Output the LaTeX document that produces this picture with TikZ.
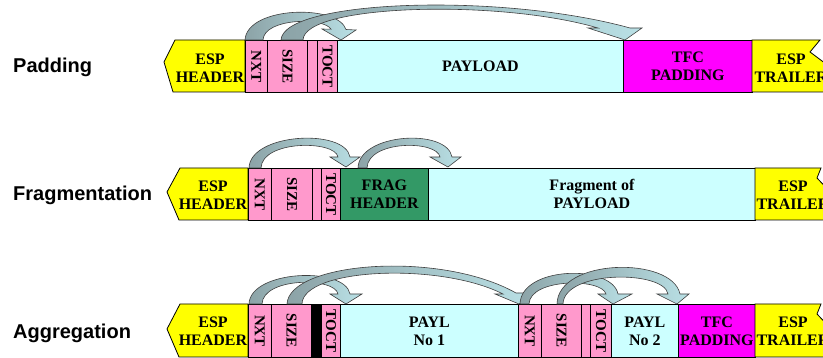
\documentclass[tikz,border=0pt]{standalone}
\usepackage{fontspec}
\setmainfont{Liberation Serif}
\setsansfont{Liberation Sans}
\definecolor{espyellow}{HTML}{FFFF00}
\definecolor{ctlpink}{HTML}{FF99CC}
\definecolor{paycyan}{HTML}{CCFFFF}
\definecolor{tfcmag}{HTML}{FF00FF}
\definecolor{fraggreen}{HTML}{339966}
\definecolor{arrdark}{HTML}{8CA3A7}
\definecolor{arrlight}{HTML}{B9E0E5}
\newcommand\fieldfont{\fontsize{16}{18}\selectfont\bfseries}
\newcommand\rotfont{\fontsize{15}{17}\selectfont\bfseries}
% a rectangular field of a packet: name, left x, right x, top y, fill, text
\newcommand\fieldbox[6]{%
  \node[field, fill=#5, minimum width={(#3-#2)*1pt}] (#1) at (#2,#4) {#6};}
\begin{document}
\begin{tikzpicture}[x=1pt, y=-1pt,
  field/.style={draw=black, line width=0.8pt, inner sep=0pt, anchor=north west,
    minimum height=52pt, font=\fieldfont, align=center},
  endcap/.style={draw=black, line width=0.8pt, line join=miter},
  fieldtext/.style={font=\fieldfont, align=center, inner sep=0pt},
  vtext/.style={font=\rotfont, rotate=-90, inner sep=0pt},
  rowlabel/.style={font=\sffamily\bfseries\fontsize{20}{24}\selectfont, anchor=west, inner sep=0pt},
  flowarrow/.style={draw=black!75, line width=0.6pt, left color=arrdark,
    right color=arrlight, line join=miter}]
\useasboundingbox (0,0) rectangle (823,358);

% ---------------- Padding ----------------
\node[rowlabel] (lblpad) at (13,67) {Padding};
\draw[endcap, fill=espyellow] (245,40) -- (175,40) -- (164,62) -- (173,92) -- (245,92) -- cycle;
\node[fieldtext] (hdrA) at (210,68) {ESP\\HEADER};
\fieldbox{nxtA}{245}{267}{40}{ctlpink}{}
\fieldbox{sizeA}{267}{307}{40}{ctlpink}{}
\fieldbox{gapA}{307}{317}{40}{ctlpink}{}
\fieldbox{toctA}{317}{337}{40}{ctlpink}{}
\fieldbox{payA}{337}{623}{40}{paycyan}{PAYLOAD}
\fieldbox{tfcA}{623}{752}{40}{tfcmag}{TFC\\PADDING}
\draw[endcap, fill=espyellow] (752,40) -- (820,40) -- (810,52) -- (834,70) -- (834,92) -- (752,92) -- cycle;
\node[fieldtext] (trlA) at (791,68) {ESP\\TRAILER};
\node[vtext] (nxtAt) at (nxtA.center) {NXT};
\node[vtext] (sizeAt) at (sizeA.center) {SIZE};
\node[vtext] (toctAt) at (toctA.center) {TOCT};

\path[flowarrow] (245,40) .. controls (247,6) and (338,4) .. (346,29.5) -- (356,30)
  -- (341,40) -- (322,29) -- (331,29.2) .. controls (324,17) and (264,18) .. (263,40) -- cycle;
\path[flowarrow] (281,40) .. controls (283,0) and (500,-8) .. (630,28) -- (642,28)
  -- (625,40) -- (588,28) -- (598,28) .. controls (500,-1) and (304,4) .. (303,40) -- cycle;

% ---------------- Fragmentation ----------------
\node[rowlabel] (lblfrag) at (13,195) {Fragmentation};
\draw[endcap, fill=espyellow] (248,168) -- (180,168) -- (167,192) -- (179,220) -- (248,220) -- cycle;
\node[fieldtext] (hdrB) at (213,195) {ESP\\HEADER};
\fieldbox{nxtB}{248}{271}{168}{ctlpink}{}
\fieldbox{sizeB}{271}{312}{168}{ctlpink}{}
\fieldbox{gapB}{312}{321}{168}{ctlpink}{}
\fieldbox{toctB}{321}{340}{168}{ctlpink}{}
\fieldbox{fragB}{340}{428}{168}{fraggreen}{FRAG\\HEADER}
\fieldbox{payB}{428}{755}{168}{paycyan}{Fragment of\\PAYLOAD}
\draw[endcap, fill=espyellow] (755,168) -- (821,168) -- (817,178) -- (834,196) -- (834,220) -- (755,220) -- cycle;
\node[fieldtext] (trlB) at (793,195) {ESP\\TRAILER};
\node[vtext] (nxtBt) at (nxtB.center) {NXT};
\node[vtext] (sizeBt) at (sizeB.center) {SIZE};
\node[vtext] (toctBt) at (toctB.center) {TOCT};

\path[flowarrow] (249,168) .. controls (250,133) and (345,128) .. (350,157) -- (360,157)
  -- (346,167) -- (330,157) -- (338,157) .. controls (335,140) and (262,140) .. (261,168) -- cycle;
\path[flowarrow] (358,168) .. controls (359,133) and (447,128) .. (452,157) -- (461,157)
  -- (448,167) -- (430,157) -- (440,157) .. controls (437,140) and (368,140) .. (367,168) -- cycle;

% ---------------- Aggregation ----------------
\node[rowlabel] (lblagg) at (13,333) {Aggregation};
\draw[endcap, fill=espyellow] (248,304) -- (180,304) -- (167,329) -- (179,357) -- (248,357) -- cycle;
\node[fieldtext] (hdrC) at (213,331) {ESP\\HEADER};
\tikzset{field/.append style={minimum height=53pt}}
\fieldbox{nxtC}{248}{271}{304}{ctlpink}{}
\fieldbox{sizeC}{271}{311}{304}{ctlpink}{}
\fieldbox{gapC}{311}{321}{304}{black}{}
\fieldbox{toctC}{321}{340}{304}{ctlpink}{}
\fieldbox{paylC}{340}{518}{304}{paycyan}{PAYL\\No 1}
\fieldbox{nxtD}{518}{541}{304}{ctlpink}{}
\fieldbox{sizeD}{541}{581}{304}{ctlpink}{}
\fieldbox{gapD}{581}{590}{304}{ctlpink}{}
\fieldbox{toctD}{590}{611}{304}{ctlpink}{}
\fieldbox{paylD}{611}{678}{304}{paycyan}{PAYL\\No 2}
\fieldbox{tfcC}{678}{755}{304}{tfcmag}{TFC\\PADDING}
\draw[endcap, fill=espyellow] (755,304) -- (821,304) -- (817,314) -- (834,332) -- (834,357) -- (755,357) -- cycle;
\node[fieldtext] (trlC) at (793,331) {ESP\\TRAILER};
\node[vtext] (nxtCt) at (nxtC.center) {NXT};
\node[vtext] (sizeCt) at (sizeC.center) {SIZE};
\node[vtext] (toctCt) at (toctC.center) {TOCT};
\node[vtext] (nxtDt) at (nxtD.center) {NXT};
\node[vtext] (sizeDt) at (sizeD.center) {SIZE};
\node[vtext] (toctDt) at (toctD.center) {TOCT};

\path[flowarrow] (249,304) .. controls (250,270) and (345,266) .. (350,294) -- (362,294)
  -- (346,304) -- (330,294) -- (338,294) .. controls (335,277) and (263,277) .. (262,304) -- cycle;
\path[flowarrow] (287,304) .. controls (289,262) and (440,250) .. (516,293) -- (532,293)
  -- (519,304) -- (495,294) -- (503,294) .. controls (440,262) and (303,268) .. (302,304) -- cycle;
\path[flowarrow] (520,304) .. controls (521,266) and (612,264) .. (618,294) -- (632,294)
  -- (613,304) -- (598,294) -- (606,294) .. controls (602,278) and (530,278) .. (529,304) -- cycle;
\path[flowarrow] (557,304) .. controls (558,258) and (672,256) .. (680,294) -- (689,294)
  -- (677,304) -- (657,294) -- (668,294) .. controls (664,270) and (564,270) .. (563,304) -- cycle;
\end{tikzpicture}
\end{document}
